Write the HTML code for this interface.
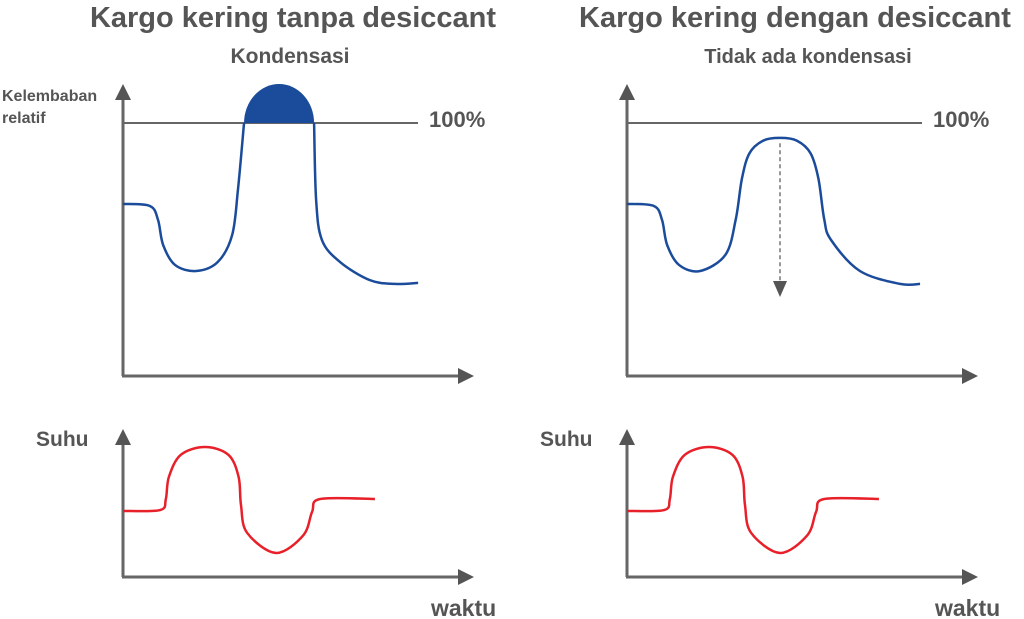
<!DOCTYPE html>
<html><head><meta charset="utf-8"><style>
html,body{margin:0;padding:0;background:#fff;}
svg{display:block;font-family:"Liberation Sans",sans-serif;font-weight:bold;fill:#555;}
</style></head><body>
<svg id="c" width="1024" height="619" viewBox="0 0 1024 619">
</svg>
<script>
// data arrays (time 0..100, value 0..100)
const humTimeA=[0,7.9,10.3,11.8,15.3,21.5,27.9,32.1,33.8,35.6];
const humValA=[68,67.2,61.7,51.8,43.9,41.5,45.1,55.7,73.5,100];
const humTimeB=[56.2,56.8,58.5,63.8,72.6,80,86.8];
const humValB=[100,69.6,53.8,45.1,37.9,36.4,36.8];
const domeStart=35.6, domeEnd=56.2, domePeak=115.4;
const humTimeR=[0,7.9,10.3,11.8,15.3,21.5,29,32,33.8,36,40,45,50,54,56.3,58,60,68.5,80.3,86.2];
const humValR=[68,67.2,61.7,51.8,43.9,41.5,48,62,78,88,93,94.1,93,88,78,62,53.8,41.5,36.4,36.4];
const tempTime=[0,10.9,12.6,13.5,17,24.1,31,34,34.7,36.5,45,53,55.6,58,74.1];
const tempVal=[50.8,51.5,60,77,94,100,94,77,55.4,34,18.5,32,50,60,60];
const arrowTime=45, arrowFrom=92, arrowTo=32;

const svg=document.getElementById('c');
const NS='http://www.w3.org/2000/svg';
function el(tag,attrs,parent){const e=document.createElementNS(NS,tag);for(const k in attrs)e.setAttribute(k,attrs[k]);(parent||svg).appendChild(e);return e;}
function cr(pts){let d='M'+pts[0][0]+','+pts[0][1];for(let i=0;i<pts.length-1;i++){const p0=pts[Math.max(0,i-1)],p1=pts[i],p2=pts[i+1],p3=pts[Math.min(pts.length-1,i+2)];
d+=' C'+(p1[0]+(p2[0]-p0[0])/6)+','+(p1[1]+(p2[1]-p0[1])/6)+' '+(p2[0]-(p3[0]-p1[0])/6)+','+(p2[1]-(p3[1]-p1[1])/6)+' '+p2[0]+','+p2[1];}return d;}
function txt(x,y,s,size,anchor,name){const t=el('text',{x:x,y:y,'font-size':size,'text-anchor':anchor||'start'});t.textContent=s;

return t;}

[0,504].forEach((off,pi)=>{
  const side=pi?'right':'left';
  const x=t=>123+off+t*3.4, yH=v=>376-v*2.53, yT=v=>577-v*1.3;
  const g=el('g',{});
  
  
  const a1=el('path',{d:`M${123+off},376V98`,stroke:'#666','stroke-width':3,fill:'none'},g);
  
  el('path',{d:`M${115+off},100L${123+off},84L${131+off},100z`,fill:'#555'},g);
  const a2=el('path',{d:`M${122+off},376H${458+off}`,stroke:'#666','stroke-width':3,fill:'none'},g);
  
  el('path',{d:`M${458+off},368L${474+off},376L${458+off},384z`,fill:'#555'},g);
  const a3=el('path',{d:`M${123+off},577V444`,stroke:'#666','stroke-width':3,fill:'none'},g);
  
  el('path',{d:`M${115+off},445L${123+off},429L${131+off},445z`,fill:'#555'},g);
  const a4=el('path',{d:`M${122+off},577H${458+off}`,stroke:'#666','stroke-width':3,fill:'none'},g);
  
  el('path',{d:`M${458+off},569L${474+off},577L${458+off},585z`,fill:'#555'},g);
  const ref=el('line',{x1:123+off,y1:yH(100),x2:418+off,y2:yH(100),stroke:'#666','stroke-width':2},g);
  
  let hp;
  if(pi===0){
    const x0=x(domeStart),x1=x(domeEnd),rx=(x1-x0)/2,ry=yH(100)-yH(domePeak);
    const dome=el('path',{d:`M${x0},${yH(100)}A${rx},${ry} 0 0 1 ${x1},${yH(100)}z`,fill:'#1b4b9b'},g);
    
    hp=el('path',{d:cr(humTimeA.map((t,i)=>[x(t),yH(humValA[i])]))+' '+cr(humTimeB.map((t,i)=>[x(t),yH(humValB[i])])),stroke:'#1b4b9b','stroke-width':2.5,fill:'none'},g);
  } else {
    hp=el('path',{d:cr(humTimeR.map((t,i)=>[x(t),yH(humValR[i])])),stroke:'#1b4b9b','stroke-width':2.5,fill:'none'},g);
    const ar=el('line',{x1:x(arrowTime),y1:yH(arrowFrom),x2:x(arrowTime),y2:yH(arrowTo)-12,stroke:'#777','stroke-width':1.5,'stroke-dasharray':'4,3'},g);
    
    el('path',{d:`M${x(arrowTime)-7},${yH(arrowTo)-14}L${x(arrowTime)},${yH(arrowTo)+2}L${x(arrowTime)+7},${yH(arrowTo)-14}z`,fill:'#555'},g);
  }
  
  const tp=el('path',{d:cr(tempTime.map((t,i)=>[x(t),yT(tempVal[i])])),stroke:'#e8202a','stroke-width':2.5,fill:'none'},g);
  
  txt(429+off,127,'100%',22,'start','label-100-percent');
  txt(36+off,446,'Suhu',21,'start','temperature-axis-title');
  txt(431+off,616,'waktu',23,'start','time-axis-title');
});
txt(293,27,'Kargo kering tanpa desiccant',29,'middle','left-title');
txt(795,27,'Kargo kering dengan desiccant',29,'middle','right-title');
txt(290,63,'Kondensasi',21,'middle','left-subtitle');
txt(808,63,'Tidak ada kondensasi',20,'middle','right-subtitle');
txt(2,101,'Kelembaban',16,'start','humidity-axis-title-line1');
txt(2,123,'relatif',16,'start','humidity-axis-title-line2');
</script>
</body></html>
